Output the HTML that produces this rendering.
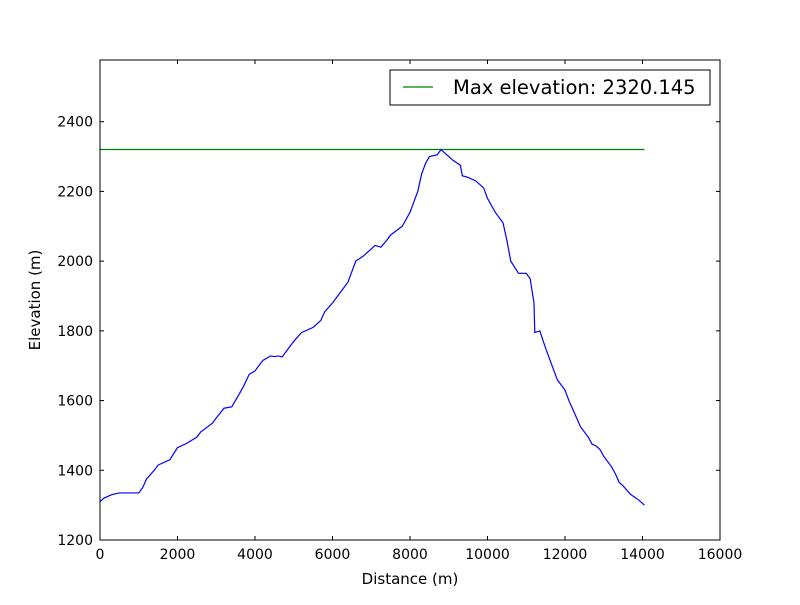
<!DOCTYPE html>
<html><head><meta charset="utf-8"><style>
body{margin:0;background:#fff;}
svg{font-family:"DejaVu Sans","Liberation Sans",sans-serif;}
</style></head><body>
<svg id="c" width="800" height="600" xmlns="http://www.w3.org/2000/svg">
<rect width="800" height="600" fill="#fff"/>
<g id="g"></g>
</svg>
<script>
const distances=[0,100,300,500,1000,1100,1200,1400,1500,1800,2000,2200,2500,2600,2900,3000,3200,3400,3600,3700,3850,4000,4200,4400,4500,4600,4700,4900,5000,5200,5500,5700,5800,6000,6200,6400,6500,6600,6800,7000,7100,7250,7400,7500,7800,8000,8200,8300,8400,8500,8700,8800,9000,9100,9300,9350,9500,9700,9900,10000,10200,10400,10500,10600,10800,11000,11100,11200,11220,11350,11500,11700,11800,11900,12000,12100,12200,12400,12600,12700,12800,12900,13000,13200,13300,13400,13500,13700,13900,14000,14050];
const elevations=[1310,1320,1330,1335,1335,1350,1375,1400,1415,1430,1465,1475,1495,1510,1535,1550,1578,1582,1620,1640,1675,1685,1715,1728,1726,1728,1725,1755,1770,1795,1810,1830,1855,1880,1910,1940,1970,2000,2015,2035,2045,2040,2060,2075,2100,2140,2200,2250,2280,2300,2305,2320,2300,2290,2275,2245,2240,2230,2210,2180,2140,2110,2060,2000,1965,1965,1950,1880,1795,1800,1750,1690,1660,1645,1630,1600,1575,1525,1495,1475,1470,1460,1440,1410,1390,1365,1355,1330,1315,1305,1300];
const maxElevation=2320.145;
const xTicks=[0,2000,4000,6000,8000,10000,12000,14000,16000];
const yTicks=[1200,1400,1600,1800,2000,2200,2400];
const L=100,R=720,T=60,B=540,xmin=0,xmax=16000,ymin=1200,ymax=2577;
const sx=v=>L+(v-xmin)/(xmax-xmin)*(R-L);
const sy=v=>B-(v-ymin)/(ymax-ymin)*(B-T);
const NS="http://www.w3.org/2000/svg",g=document.getElementById('g');
function mk(t,a,txt){const e=document.createElementNS(NS,t);for(const k in a)e.setAttribute(k,a[k]);if(txt!==undefined)e.textContent=txt;g.appendChild(e);return e;}
let e;
e=mk('rect',{x:L,y:T,width:R-L,height:B-T,fill:'#fff'});


e=mk('line',{x1:sx(0),x2:sx(distances[distances.length-1]),y1:sy(maxElevation),y2:sy(maxElevation),stroke:'#008000','stroke-width':1.2});


e=mk('polyline',{points:distances.map((d,i)=>sx(d)+','+sy(elevations[i])).join(' '),fill:'none',stroke:'#0000ff','stroke-width':1.2});


xTicks.forEach(v=>{const x=sx(v);
 mk('line',{x1:x,x2:x,y1:B,y2:B-4,stroke:'#000'});mk('line',{x1:x,x2:x,y1:T,y2:T+4,stroke:'#000'});
 e=mk('text',{x:x,y:B+19,'text-anchor':'middle','font-size':14},String(v));
 
 });
yTicks.forEach(v=>{const y=sy(v);
 mk('line',{x1:L,x2:L+4,y1:y,y2:y,stroke:'#000'});mk('line',{x1:R,x2:R-4,y1:y,y2:y,stroke:'#000'});
 e=mk('text',{x:L-7,y:y+5,'text-anchor':'end','font-size':14},String(v));
 
 });
e=mk('rect',{x:L,y:T,width:R-L,height:B-T,fill:'none',stroke:'#000','stroke-width':1});


e=mk('text',{x:(L+R)/2,y:584,'text-anchor':'middle','font-size':15},'Distance (m)');


e=mk('text',{x:40,y:300,'text-anchor':'middle','font-size':15,transform:'rotate(-90 40 300)'},'Elevation (m)');


e=mk('rect',{x:390,y:70,width:320,height:35,fill:'#fff',stroke:'#000'});


e=mk('line',{x1:403,x2:433,y1:87,y2:87,stroke:'#008000','stroke-width':1.2});


e=mk('text',{x:453,y:94,'font-size':19.5},'Max elevation: '+maxElevation.toFixed(3));


</script>
</body></html>
